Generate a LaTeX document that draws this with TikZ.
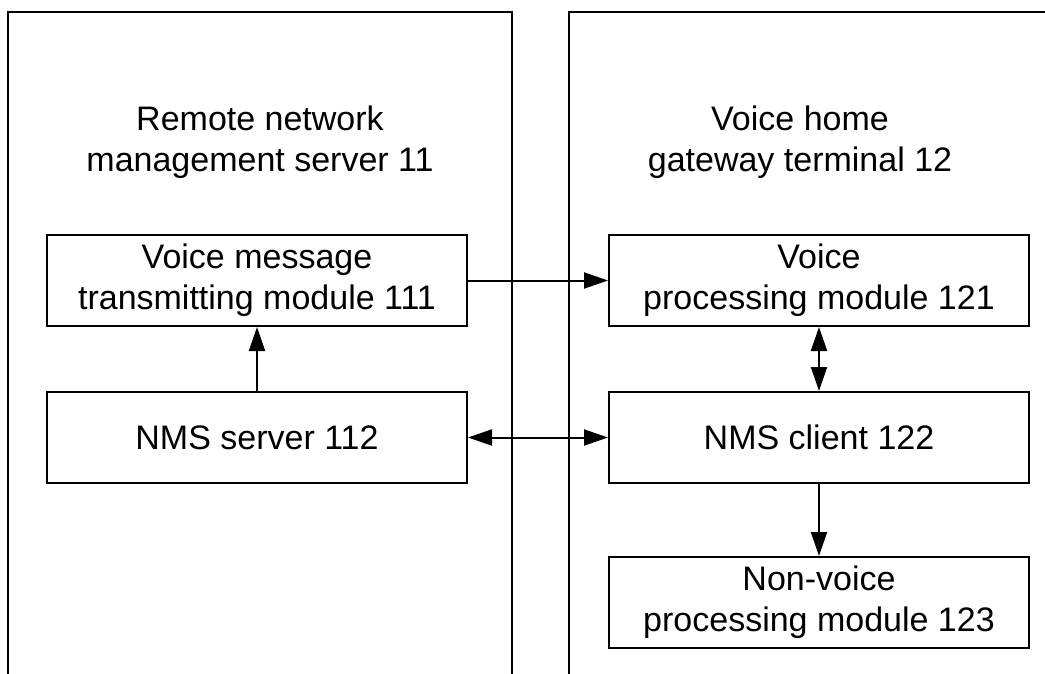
\documentclass[tikz,border=0pt]{standalone}
\usepackage{fontspec}
\setmainfont{Liberation Sans}
\usetikzlibrary{arrows.meta}
\begin{document}
\begin{tikzpicture}[x=1pt,y=-1pt,
  outer/.style={line width=2.4pt},
  mbox/.style={draw,line width=2pt,minimum width=420pt,minimum height=91pt,inner sep=0pt,align=center,font=\fontsize{34}{41}\selectfont},
  ttl/.style={align=center,font=\fontsize{34}{41}\selectfont},
  arr/.style={line width=2pt,-{Triangle[length=24pt,width=16pt]}},
  darr/.style={line width=2pt,{Triangle[length=24pt,width=16pt]}-{Triangle[length=24pt,width=16pt]}}]
\useasboundingbox (0,0) rectangle (1045,674);
\draw[outer] (8,674) -- (8,12) -- (512,12) -- (512,674);
\draw[outer] (569,674) -- (569,12) -- (1045,12);
\node[ttl] (t1) at (260,142) {Remote network\\management server 11};
\node[ttl] (t2) at (800,142) {Voice home\\gateway terminal 12};
\node[mbox] (vm) at (257,280.5) {Voice message\\transmitting module 111};
\node[mbox] (ns) at (257,437.5) {NMS server 112};
\node[mbox] (vp) at (819,280.5) {Voice\\processing module 121};
\node[mbox] (nc) at (819,437.5) {NMS client 122};
\node[mbox] (nv) at (819,602.5) {Non-voice\\processing module 123};
\draw[arr] (vm.east) -- (vp.west);
\draw[darr] (ns.east) -- (nc.west);
\draw[arr] (ns.north) -- (vm.south);
\draw[darr] (vp.south) -- (nc.north);
\draw[arr] (nc.south) -- (nv.north);
\end{tikzpicture}
\end{document}
